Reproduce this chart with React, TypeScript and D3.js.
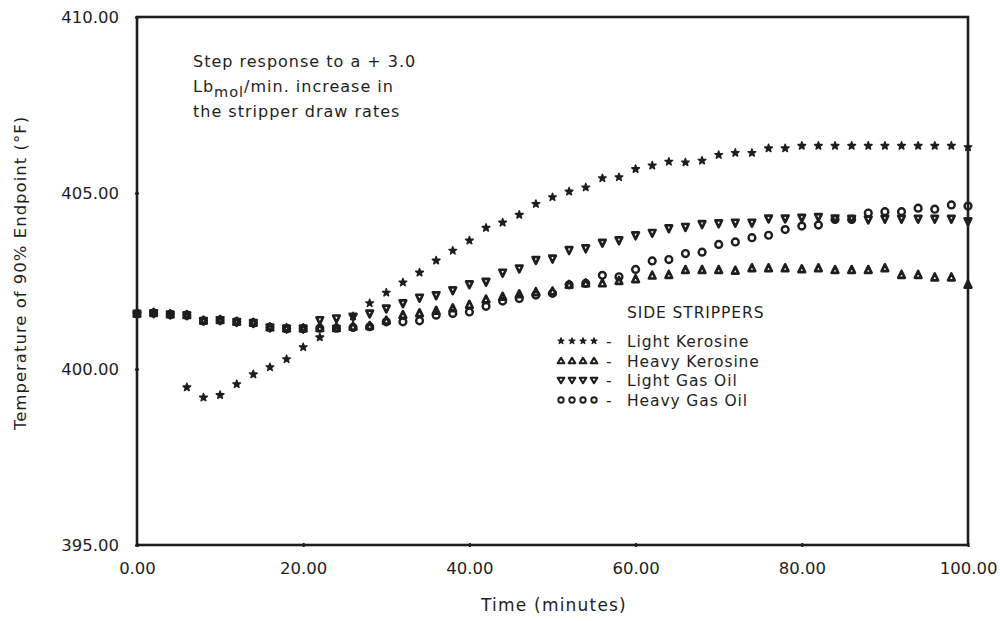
import React, { useEffect, useRef } from "react";
import * as d3 from "d3";

// time in minutes, one sample every 2 minutes
const times = [
  0, 2, 4, 6, 8, 10, 12, 14, 16, 18, 20, 22, 24, 26, 28, 30, 32, 34, 36, 38, 40,
  42, 44, 46, 48, 50, 52, 54, 56, 58, 60, 62, 64, 66, 68, 70, 72, 74, 76, 78, 80,
  82, 84, 86, 88, 90, 92, 94, 96, 98, 100,
];

const lightKerosine = [
  401.57, 401.59, 401.55, 399.48, 399.19, 399.26, 399.57, 399.85, 400.05, 400.28, 400.62,
  400.9, 401.2, 401.5, 401.87, 402.17, 402.46, 402.74, 403.08, 403.36, 403.65,
  404.01, 404.16, 404.38, 404.69, 404.88, 405.04, 405.16, 405.42, 405.45, 405.68,
  405.78, 405.89, 405.87, 405.92, 406.08, 406.14, 406.14, 406.27, 406.27, 406.34,
  406.34, 406.34, 406.34, 406.34, 406.34, 406.34, 406.34, 406.34, 406.34, 406.3,
];

const heavyKerosine = [
  401.57, 401.59, 401.55, 401.53, 401.37, 401.39, 401.34, 401.31, 401.18, 401.15, 401.15,
  401.16, 401.16, 401.2, 401.22, 401.37, 401.53, 401.58, 401.65, 401.72, 401.82,
  401.97, 402.05, 402.12, 402.18, 402.2, 402.39, 402.43, 402.43, 402.5, 402.55,
  402.65, 402.67, 402.81, 402.81, 402.81, 402.79, 402.86, 402.86, 402.86, 402.83,
  402.86, 402.81, 402.81, 402.81, 402.86, 402.67, 402.67, 402.6, 402.6, 402.39,
];

const lightGasOil = [
  401.57, 401.59, 401.55, 401.53, 401.37, 401.39, 401.34, 401.31, 401.18, 401.15, 401.15,
  401.39, 401.44, 401.49, 401.58, 401.72, 401.87, 402.03, 402.1, 402.24, 402.41,
  402.48, 402.74, 402.86, 403.1, 403.14, 403.38, 403.43, 403.59, 403.66, 403.8,
  403.87, 404.0, 404.04, 404.12, 404.14, 404.16, 404.16, 404.28, 404.28, 404.3,
  404.32, 404.28, 404.27, 404.25, 404.27, 404.27, 404.27, 404.27, 404.27, 404.2,
];

const heavyGasOil = [
  401.57, 401.59, 401.55, 401.53, 401.37, 401.39, 401.34, 401.31, 401.18, 401.15, 401.15,
  401.16, 401.16, 401.18, 401.2, 401.34, 401.34, 401.37, 401.53, 401.58, 401.62,
  401.78, 401.93, 402.0, 402.1, 402.15, 402.39, 402.43, 402.66, 402.62, 402.83,
  403.07, 403.11, 403.28, 403.32, 403.54, 403.61, 403.73, 403.8, 403.96, 404.06,
  404.09, 404.25, 404.25, 404.43, 404.47, 404.47, 404.57, 404.54, 404.66, 404.63,
];

const xTicks = [0, 20, 40, 60, 80, 100];
const yTicks = [395, 400, 405, 410];

const seriesNames = ["Light Kerosine", "Heavy Kerosine", "Light Gas Oil", "Heavy Gas Oil"];
const seriesValues = [lightKerosine, heavyKerosine, lightGasOil, heavyGasOil];
const markerKinds = ["star", "up", "down", "circle"];

const INK = "#1e1e1e";
const FONT = "'DejaVu Sans', sans-serif";

const margin = { left: 137, right: 32, top: 17, bottom: 76 };
const W = 1000;
const H = 621;

const drawMarker = (g, kind, x, y, k = 1) => {
  if (kind === "star") {
    g.append("path")
      .attr("d", d3.symbol().type(d3.symbolStar).size(18 * k * k)())
      .attr("transform", `translate(${x},${y})`)
      .attr("fill", INK)
      .attr("stroke", INK)
      .attr("stroke-width", 1.5 * k)
      .attr("stroke-linejoin", "round");
  } else if (kind === "circle") {
    g.append("circle")
      .attr("cx", x)
      .attr("cy", y)
      .attr("r", 3.4 * k)
      .attr("fill", "none")
      .attr("stroke", INK)
      .attr("stroke-width", 2.4 * k);
  } else {
    const s = kind === "up" ? k : -k;
    const p = `M0,${-4 * s}L3.3,${2.8 * s}L-3.3,${2.8 * s}Z`;
    g.append("path")
      .attr("d", p)
      .attr("transform", `translate(${x},${y})`)
      .attr("fill", "none")
      .attr("stroke", INK)
      .attr("stroke-width", 2.7 * k)
      .attr("stroke-linejoin", "round");
  }
};

const App = () => {
  const canvas = useRef(null);

  useEffect(() => {
    const svg = d3.select(canvas.current);
    svg.selectAll("*").remove();

    const xscale = d3
      .scaleLinear()
      .domain([0, 100])
      .range([margin.left, W - margin.right]);
    const yscale = d3
      .scaleLinear()
      .domain([395, 410])
      .range([H - margin.bottom, margin.top]);

    // frame
    svg
      .append("rect")
      .attr("x", xscale(0))
      .attr("y", yscale(410))
      .attr("width", xscale(100) - xscale(0))
      .attr("height", yscale(395) - yscale(410))
      .attr("fill", "none")
      .attr("stroke", INK)
      .attr("stroke-width", 2.6);

    // bottom axis
    const xAxis = d3
      .axisBottom(xscale)
      .tickValues(xTicks)
      .tickFormat(d3.format(".2f"))
      .tickSize(3)
      .tickPadding(14);
    const gx = svg
      .append("g")
      .attr("transform", `translate(0,${yscale(395)})`)
      .call(xAxis);
    gx.select(".domain").remove();
    gx.selectAll("line").attr("stroke", INK).attr("stroke-width", 2).attr("y1", -2).attr("y2", 2);
    gx.selectAll("text")
      .attr("font-family", FONT)
      .attr("font-size", 16.5)
      .attr("fill", INK);

    // left axis
    const yAxis = d3
      .axisLeft(yscale)
      .tickValues(yTicks)
      .tickFormat(d3.format(".2f"))
      .tickSize(3)
      .tickPadding(15);
    const gy = svg
      .append("g")
      .attr("transform", `translate(${xscale(0)},0)`)
      .call(yAxis);
    gy.select(".domain").remove();
    gy.selectAll("line").attr("stroke", INK).attr("stroke-width", 2).attr("x1", -2).attr("x2", 2);
    gy.selectAll("text")
      .attr("font-family", FONT)
      .attr("font-size", 16.5)
      .attr("fill", INK);

    // axis titles
    svg
      .append("text")
      .text("Time (minutes)")
      .attr("x", 554)
      .attr("y", 611)
      .attr("text-anchor", "middle")
      .attr("font-family", FONT)
      .attr("font-size", 17)
      .attr("letter-spacing", 1.2)
      .attr("fill", INK);

    svg
      .append("text")
      .text("Temperature of 90% Endpoint (°F)")
      .attr("transform", `translate(26,273) rotate(-90)`)
      .attr("text-anchor", "middle")
      .attr("font-family", FONT)
      .attr("font-size", 16.5)
      .attr("letter-spacing", 1)
      .attr("fill", INK);

    // annotation
    const note = svg
      .append("g")
      .attr("font-family", FONT)
      .attr("font-size", 16)
      .attr("letter-spacing", 1)
      .attr("fill", INK);
    note.append("text").text("Step response to a + 3.0").attr("x", 193).attr("y", 67);
    const l2 = note.append("text").attr("x", 193).attr("y", 92);
    l2.append("tspan").text("Lb");
    l2.append("tspan").text("mol").attr("dy", 5).attr("font-size", 14.5);
    l2.append("tspan").text("/min. increase in").attr("dy", -5);
    note.append("text").text("the stripper draw rates").attr("x", 193).attr("y", 117);

    // data points
    const pts = svg.append("g");
    seriesValues.forEach((vals, si) => {
      vals.forEach((v, i) => {
        drawMarker(pts, markerKinds[si], xscale(times[i]), yscale(v));
      });
    });

    // legend
    const leg = svg
      .append("g")
      .attr("font-family", FONT)
      .attr("font-size", 15.5)
      .attr("letter-spacing", 0.9)
      .attr("fill", INK);
    leg.append("text").text("SIDE STRIPPERS").attr("x", 627).attr("y", 318);
    const rowY = [342, 362, 381, 401];
    seriesNames.forEach((name, si) => {
      for (let k = 0; k < 4; k++) {
        drawMarker(leg, markerKinds[si], 561 + k * 11, rowY[si] - 1, 0.8);
      }
      leg.append("text").text("-").attr("x", 606).attr("y", rowY[si] + 5);
      leg.append("text").text(name).attr("x", 627).attr("y", rowY[si] + 5);
    });
  }, []);

  return (
    <svg
      ref={canvas}
      width={W}
      height={H}
      style={{ position: "absolute", left: 0, top: 0, background: "#fff" }}
    ></svg>
  );
};

export default App;
